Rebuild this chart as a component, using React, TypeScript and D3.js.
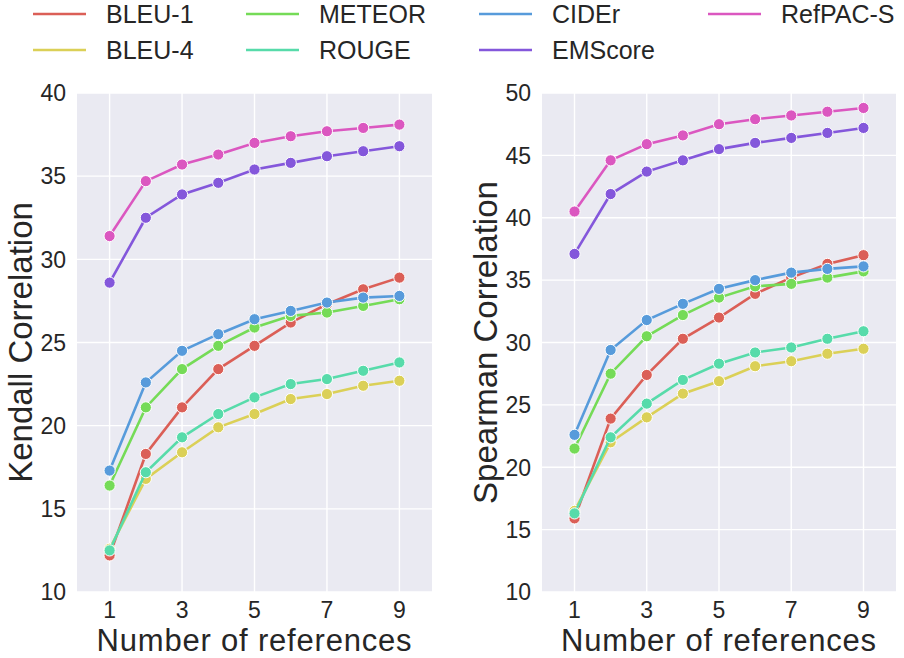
import * as d3 from "d3";

const refs = [1, 2, 3, 4, 5, 6, 7, 8, 9];
const metrics = ["BLEU-1", "BLEU-4", "METEOR", "ROUGE", "CIDEr", "EMScore", "RefPAC-S"];
const colors = ["#db5f57", "#dbd057", "#75db57", "#57dbaa", "#579bdb", "#8457db", "#db57c0"];

const kendall = [
  [12.2, 18.3, 21.1, 23.4, 24.8, 26.2, 27.3, 28.2, 28.9],
  [12.6, 16.8, 18.4, 19.9, 20.7, 21.6, 21.9, 22.4, 22.7],
  [16.4, 21.1, 23.4, 24.8, 25.9, 26.6, 26.8, 27.2, 27.6],
  [12.5, 17.2, 19.3, 20.7, 21.7, 22.5, 22.8, 23.3, 23.8],
  [17.3, 22.6, 24.5, 25.5, 26.4, 26.9, 27.4, 27.7, 27.8],
  [28.6, 32.5, 33.9, 34.6, 35.4, 35.8, 36.2, 36.5, 36.8],
  [31.4, 34.7, 35.7, 36.3, 37.0, 37.4, 37.7, 37.9, 38.1],
];

const spearman = [
  [15.9, 23.9, 27.4, 30.3, 32.0, 33.9, 35.2, 36.3, 37.0],
  [16.5, 22.0, 24.0, 25.9, 26.9, 28.1, 28.5, 29.1, 29.5],
  [21.5, 27.5, 30.5, 32.2, 33.6, 34.5, 34.7, 35.2, 35.7],
  [16.3, 22.4, 25.1, 27.0, 28.3, 29.2, 29.6, 30.3, 30.9],
  [22.6, 29.4, 31.8, 33.1, 34.3, 35.0, 35.6, 35.9, 36.1],
  [37.1, 41.9, 43.7, 44.6, 45.5, 46.0, 46.4, 46.8, 47.2],
  [40.5, 44.6, 45.9, 46.6, 47.5, 47.9, 48.2, 48.5, 48.8],
];

const xTicks = [1, 3, 5, 7, 9];
const kendallTicks = [10, 15, 20, 25, 30, 35, 40];
const spearmanTicks = [10, 15, 20, 25, 30, 35, 40, 45, 50];

const FONT = "'Liberation Sans', Arial, Helvetica, sans-serif";
const TEXT = "#262626";

interface PanelProps {
  left: number;
  right: number;
  values: number[][];
  yDomain: [number, number];
  yTicks: number[];
  yLabel: string;
}

function Panel({ left, right, values, yDomain, yTicks, yLabel }: PanelProps) {
  const top = 93;
  const bottom = 592;
  const x = d3.scaleLinear().domain([0.1, 9.9]).range([left, right]);
  const y = d3.scaleLinear().domain(yDomain).range([bottom, top]);
  const line = d3
    .line<number>()
    .x((_, i) => x(refs[i]))
    .y((d) => y(d));

  return (
    <g>
      <rect x={left} y={top} width={right - left} height={bottom - top} fill="#eaeaf2" />
      {xTicks.map((t) => (
        <line key={"gx" + t} x1={x(t)} x2={x(t)} y1={top} y2={bottom} stroke="#fff" strokeWidth={1.4} />
      ))}
      {yTicks.map((t) => (
        <line key={"gy" + t} x1={left} x2={right} y1={y(t)} y2={y(t)} stroke="#fff" strokeWidth={1.4} />
      ))}
      {values.map((s, i) => (
        <g key={metrics[i]}>
          <path d={line(s) ?? ""} fill="none" stroke={colors[i]} strokeWidth={2.6} />
          {s.map((v, j) => (
            <circle key={j} cx={x(refs[j])} cy={y(v)} r={5.6} fill={colors[i]} stroke="#fff" strokeWidth={1} />
          ))}
        </g>
      ))}
      {xTicks.map((t) => (
        <text key={"tx" + t} x={x(t)} y={618} textAnchor="middle" fontSize={23} fill={TEXT}>
          {t}
        </text>
      ))}
      {yTicks.map((t) => (
        <text key={"ty" + t} x={left - 11} y={y(t)} dy="0.36em" textAnchor="end" fontSize={23} fill={TEXT}>
          {t}
        </text>
      ))}
      <text x={(left + right) / 2} y={651} textAnchor="middle" fontSize={31} letterSpacing={0.8} fill={TEXT}>
        Number of references
      </text>
      <text
        transform={`translate(${left - 45},${(top + bottom) / 2}) rotate(-90)`}
        textAnchor="middle"
        fontSize={33}
        fill={TEXT}
      >
        {yLabel}
      </text>
    </g>
  );
}

// legend columns, filled column by column like matplotlib's ncol=4
const legendCols = [33, 246, 479, 708];
const legendRows = [14, 50];

export default function App() {
  return (
    <div style={{ position: "absolute", left: 0, top: 0 }}>
      <svg width={904} height={658} style={{ display: "block", fontFamily: FONT, background: "#fff" }}>
        {metrics.map((m, i) => {
          const col = Math.floor(i / 2);
          const row = i % 2;
          const lx = legendCols[col];
          const ly = legendRows[row];
          return (
            <g key={m}>
              <line x1={lx} x2={lx + 53} y1={ly} y2={ly} stroke={colors[i]} strokeWidth={2.4} />
              <text x={lx + 73} y={ly} dy="0.36em" fontSize={25} fill={TEXT}>
                {m}
              </text>
            </g>
          );
        })}
        <Panel left={77} right={432} values={kendall} yDomain={[10, 40]} yTicks={kendallTicks} yLabel="Kendall Correlation" />
        <Panel left={542} right={896} values={spearman} yDomain={[10, 50]} yTicks={spearmanTicks} yLabel="Spearman Correlation" />
      </svg>
    </div>
  );
}
